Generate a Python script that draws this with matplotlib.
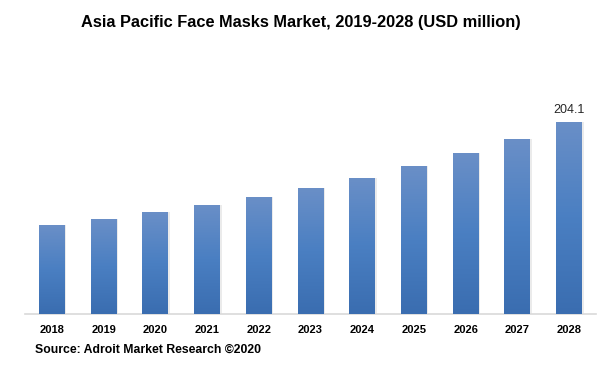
import matplotlib
matplotlib.use("Agg")
import matplotlib.pyplot as plt
import numpy as np
from matplotlib.colors import LinearSegmentedColormap

years = ["2018", "2019", "2020", "2021", "2022", "2023", "2024", "2025", "2026", "2027", "2028"]
values = [94.6, 101.0, 108.4, 115.9, 124.4, 133.9, 144.6, 157.3, 171.1, 186.0, 204.1]
title = "Asia Pacific Face Masks Market, 2019-2028 (USD million)"
source = "Source: Adroit Market Research \u00a92020"

fig = plt.figure(figsize=(6.15, 3.75), dpi=100)
ax = fig.add_axes([25/615, 1-314/375, (596-25)/615, (314-60)/375])

x = np.arange(len(years))
bars = ax.bar(x, values, width=0.5, color="none", edgecolor="none", zorder=2)
ax.set_xlim(-0.52, 10.52)
ax.set_ylim(0, 254 * 1.063)

cmap = LinearSegmentedColormap.from_list("g", ["#3a6db0", "#4a7fc2", "#6a8fc7"])
grad = np.linspace(0, 1, 256).reshape(-1, 1)
for b in bars:
    x0, y0 = b.get_x(), b.get_y()
    w, h = b.get_width(), b.get_height()
    ax.bar(x0 + w/2 + 0.03, h, width=w, bottom=0, color="#d8d8d8", alpha=0.5, zorder=1, edgecolor="none")
    im = ax.imshow(grad, extent=[x0, x0 + w, y0, y0 + h], origin="lower",
                   cmap=cmap, aspect="auto", zorder=3)
    im.set_clip_path(b)

ax.text(x[-1], values[-1] + 6, f"{values[-1]:.1f}", ha="center", va="bottom",
        fontsize=9, color="#262626", family="Liberation Sans")

for s in ["top", "right", "left"]:
    ax.spines[s].set_visible(False)
ax.spines["bottom"].set_color("#d9d9d9")
ax.spines["bottom"].set_linewidth(1.2)
ax.set_yticks([])
ax.set_xticks(x)
ax.set_xticklabels(years, fontsize=8, fontweight="bold", family="Liberation Sans")
ax.tick_params(axis="x", length=0, pad=8)

fig.text(301/615, 1-22/375, title, ha="center", va="center", fontsize=11.8,
         fontweight="bold", family="Liberation Sans", color="#000000")
fig.text(35/615, 1-350/375, source, ha="left", va="center", fontsize=8.8,
         fontweight="bold", family="Liberation Sans")

fig.savefig("out.png", dpi=100)
